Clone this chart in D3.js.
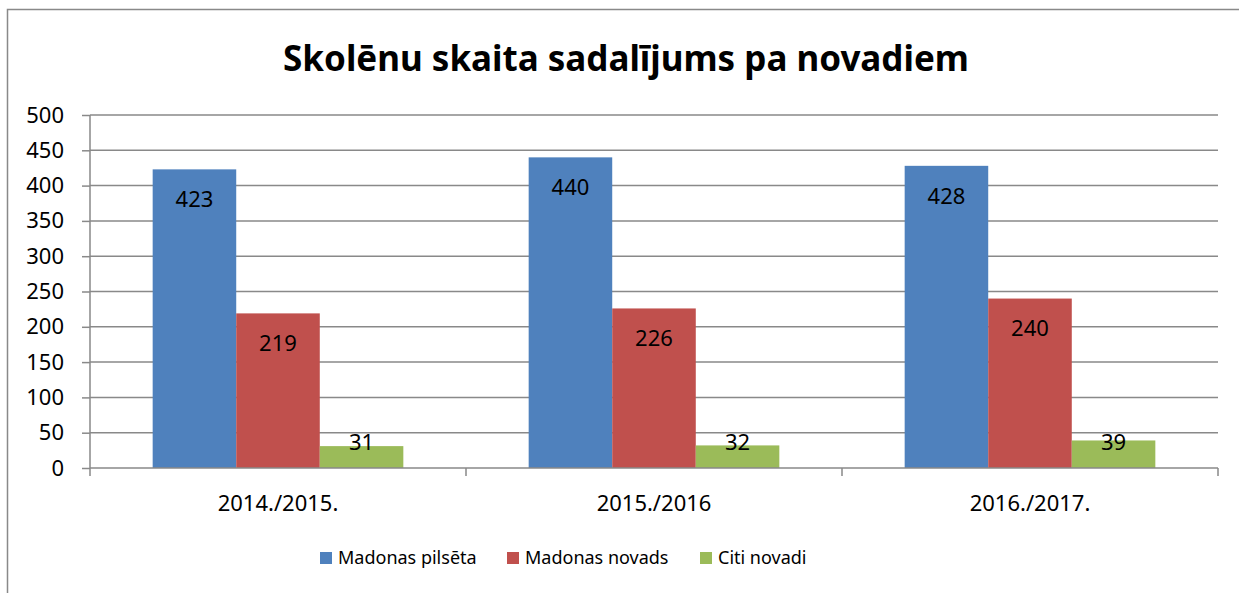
<!DOCTYPE html>
<html>
<head>
<meta charset="utf-8">
<title>Skolēnu skaits</title>
<script src="https://d3js.org/d3.v7.min.js"></script>
<style>
  body { margin: 0; background: #fff; }
  text { font-family: "Noto Sans", "DejaVu Sans", sans-serif; fill: #000; }
</style>
</head>
<body>
<script>
  // data
  const years = ["2014./2015.", "2015./2016", "2016./2017."];
  const seriesNames = ["Madonas pilsēta", "Madonas novads", "Citi novadi"];
  const pilseta = [423, 440, 428];
  const novads = [219, 226, 240];
  const citi = [31, 32, 39];
  const yTicks = [0, 50, 100, 150, 200, 250, 300, 350, 400, 450, 500];
  const colors = ["#4F81BD", "#C0504D", "#9BBB59"];

  const series = [pilseta, novads, citi];

  const W = 1239, H = 593;
  const svg = d3.select("body").append("svg")
      .attr("width", W)
      .attr("height", H);

  // outer chart border
  svg.append("rect")
      .attr("x", 7.5).attr("y", 9.5)
      .attr("width", W + 10).attr("height", H + 10)
      .style("fill", "none")
      .style("stroke", "#898989")
      .style("stroke-width", 1.5);

  // title
  svg.append("text")
      .attr("x", 626).attr("y", 71)
      .attr("text-anchor", "middle")
      .style("font-size", "35px")
      .style("font-weight", "bold")
      .text("Skolēnu skaita sadalījums pa novadiem");

  const pLeft = 90, pRight = 1218, pTop = 115, pBottom = 468;

  const x0 = d3.scaleBand()
      .domain(years)
      .range([pLeft, pRight]);
  const x1 = d3.scaleBand()
      .domain(d3.range(series.length))
      .range([0, x0.bandwidth()])
      .paddingOuter(0.75);
  const y = d3.scaleLinear()
      .domain([0, 500])
      .range([pBottom, pTop]);

  // gridlines
  svg.append("g")
    .selectAll("line")
    .data(yTicks.slice(1))
    .join("line")
      .attr("x1", pLeft).attr("x2", pRight)
      .attr("y1", d => y(d)).attr("y2", d => y(d))
      .style("stroke", "#898989")
      .style("stroke-width", 1.5);

  // y axis
  const yAxis = svg.append("g")
      .attr("transform", `translate(${pLeft},0)`)
      .call(d3.axisLeft(y).tickValues(yTicks).tickSize(8).tickPadding(18));
  yAxis.select(".domain").style("stroke", "#898989").style("stroke-width", 1.5)
      .attr("d", `M0,${y(500)}V${y(0)}`);
  yAxis.selectAll(".tick line").style("stroke", "#898989").style("stroke-width", 1.5);
  yAxis.selectAll(".tick text")
      .style("font-size", "22px")
      .style("font-family", "'Noto Sans', sans-serif")
      .style("fill", "#000");

  // bars
  series.forEach((vals, si) => {
    svg.append("g")
      .selectAll("rect")
      .data(vals)
      .join("rect")
        .attr("x", (d, i) => x0(years[i]) + x1(si))
        .attr("y", d => y(d))
        .attr("width", x1.bandwidth())
        .attr("height", d => y(0) - y(d))
        .style("fill", colors[si]);
  });

  // x axis
  const xAxis = svg.append("g")
      .attr("transform", `translate(0,${pBottom})`)
      .call(d3.axisBottom(x0).tickSize(0).tickPadding(27));
  xAxis.select(".domain").style("stroke", "#898989").style("stroke-width", 1.5)
      .attr("d", `M${pLeft},0H${pRight}`);
  xAxis.selectAll(".tick text")
      .style("font-size", "22px")
      .style("font-family", "'Noto Sans', sans-serif")
      .style("fill", "#000");
  svg.append("g")
    .selectAll("line")
    .data(years.concat(["end"]))
    .join("line")
      .attr("x1", (d, i) => i < years.length ? x0(d) : pRight)
      .attr("x2", (d, i) => i < years.length ? x0(d) : pRight)
      .attr("y1", pBottom).attr("y2", pBottom + 8)
      .style("stroke", "#898989")
      .style("stroke-width", 1.5);

  // value labels
  series.forEach((vals, si) => {
    svg.append("g")
      .selectAll("text")
      .data(vals)
      .join("text")
        .attr("x", (d, i) => x0(years[i]) + x1(si) + x1.bandwidth() / 2)
        .attr("y", d => Math.min(y(d) + 30, y(0) - 26))
        .attr("dy", "0.35em")
        .attr("text-anchor", "middle")
        .style("font-size", "22px")
        .text(d => d);
  });

  // legend
  const legendX = [320, 507, 700];
  const legend = svg.append("g");
  seriesNames.forEach((name, i) => {
    legend.append("rect")
        .attr("x", legendX[i]).attr("y", 552)
        .attr("width", 12).attr("height", 12)
        .style("fill", colors[i]);
    legend.append("text")
        .attr("x", legendX[i] + 18).attr("y", 558)
        .attr("dy", "0.35em")
        .style("font-size", "18px")
        .text(name);
  });
</script>
</body>
</html>
